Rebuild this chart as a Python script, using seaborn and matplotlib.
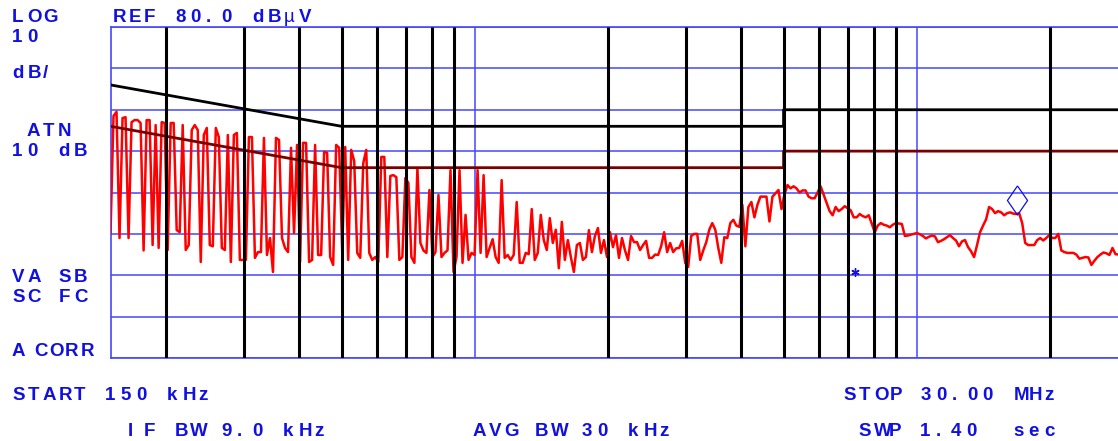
import numpy as np
import pandas as pd
import matplotlib
matplotlib.use("Agg")
import matplotlib.pyplot as plt
import seaborn as sns
from matplotlib.ticker import LogLocator, NullFormatter

# Instrument settings shown on screen
START_MHZ = 0.15
STOP_MHZ = 30.0
REF_DBUV = 80.0
DB_PER_DIV = 10
N_DIV = 8

# Measured trace (dBuV), one value per sweep point, 150 kHz .. 30 MHz
trace_dbuv = [
    30, 58.5, 59.5, 29, 58, 58.2, 29, 57, 57.5, 57.5,
    56.8, 26, 57.5, 57.5, 27.3, 56.3, 26.6, 57, 56.8, 26.1,
    56.8, 56.8, 30.9, 30.4, 56.3, 26.1, 27.3, 55.1, 56.3, 55.1,
    23.2, 53.9, 55.6, 27.3, 27, 55.6, 53.4, 26.6, 26.1, 53.9,
    23.2, 53.9, 54.4, 23.7, 23.7, 23.7, 53.4, 53.4, 24.2, 25.6,
    25.6, 53.2, 24.9, 29, 20.8, 53.2, 52.7, 29, 26.6, 25.6,
    50.8, 30.2, 51.5, 23.2, 52, 52, 23.2, 23.7, 51.5, 24.9,
    24.9, 49.8, 49.6, 24.4, 22.5, 51.5, 50.8, 26.1, 51, 23.7,
    50.3, 47.6, 25.4, 24.2, 47.1, 50.3, 25.4, 23.7, 24.4, 23.2,
    48.6, 48.6, 24.4, 44, 44.2, 43.7, 23.7, 24.4, 43.5, 42.3,
    24.4, 23, 45.9, 27.8, 26, 25.4, 40.6, 24.4, 25.6, 39.4,
    24.4, 25.4, 26, 45.4, 20.8, 24.4, 45.4, 23, 34.6, 23.7,
    25.4, 24.9, 45.4, 25.4, 44.2, 24.4, 26.6, 28.7, 24.4, 23,
    43, 24.2, 24.9, 23.7, 24.9, 37.7, 23, 23, 25.4, 25.1,
    36, 23.7, 25.4, 34.6, 28.5, 26.1, 33.8, 27.8, 31, 21.7,
    32.9, 23.7, 28.5, 24.4, 20.8, 27.3, 27.8, 23.7, 24.4, 30.9,
    25.6, 29.5, 31.4, 25.4, 28.5, 24.4, 30.4, 26.8, 29.7, 24.2,
    29, 26, 23.7, 29.5, 28, 28, 26.1, 27.3, 28.3, 24.2,
    24.2, 25, 24.9, 27, 30.4, 25.6, 27.8, 25.6, 26.5, 26.6,
    28.3, 23, 22, 29.5, 30, 30, 23.7, 26, 28, 31,
    32.6, 31, 26.6, 23, 29.2, 29, 32.6, 33.4, 32, 31.7,
    37, 27, 36.5, 37.7, 34, 37, 39, 39, 39, 33,
    39, 39.8, 40.6, 36, 39.6, 41.8, 41, 41.5, 41, 40,
    40.5, 40.5, 39, 38.6, 38.6, 40, 41.5, 39.5, 37.5, 35.5,
    34.5, 36.5, 35.5, 36, 36.7, 36.2, 35.7, 34, 34, 34.8,
    34.3, 34, 34.5, 32.5, 30.4, 32, 32.6, 32.2, 32, 31.6,
    32.2, 32.6, 32.5, 32.4, 29.5, 29.6, 29.8, 30, 30.2, 29.9,
    29.5, 28.9, 29.3, 29.6, 29.4, 28, 28.3, 28.7, 29.2, 29.7,
    29, 28.4, 27, 28.2, 28.5, 26.8, 25.8, 24.4, 27.3, 30.4,
    32, 33.5, 36.5, 36, 35, 35.5, 35.2, 34.5, 35, 35.2,
    34.9, 34.8, 35, 32.6, 27.8, 27.3, 27.3, 27.3, 28.5, 29,
    28.4, 29, 29.7, 29, 29, 30, 26, 25.6, 25.4, 25.4,
    25.4, 25, 24, 24.2, 24.4, 24.3, 22.5, 23.5, 24.4, 25,
    25.5, 25.3, 24.9, 26.6, 25.1, 25, 24.6, 24.5, 24.5,
]

# Limit lines (quasi-peak and average)
qp_limit_mhz = [0.15, 0.5, 5.0, 5.0, 30.0]
qp_limit_dbuv = [66, 56, 56, 60, 60]
avg_limit_mhz = [0.15, 0.5, 5.0, 5.0, 30.0]
avg_limit_dbuv = [56, 46, 46, 50, 50]

# Markers
marker_mhz = [16.9]
marker_dbuv = [38.2]
ref_mark_mhz = [7.26]
ref_mark_dbuv = [20.8]

sweep_mhz = np.geomspace(START_MHZ, STOP_MHZ, len(trace_dbuv))
trace_df = pd.DataFrame({"freq": sweep_mhz, "level": trace_dbuv})

BLUE = "#1010e0"
GRID_BLUE = "#4646ff"

sns.set_style("white")
plt.rcParams["font.family"] = ["Liberation Sans", "DejaVu Sans"]

W, H = 1118, 441
fig = plt.figure(figsize=(W / 100, H / 100), dpi=100)
ax = fig.add_axes([110.5 / W, (H - 358) / H, (1127.5 - 110.5) / W, (358 - 27) / H])

ax.set_xscale("log")
ax.set_xlim(START_MHZ, STOP_MHZ)
ax.set_ylim(REF_DBUV - N_DIV * DB_PER_DIV, REF_DBUV)

# graticule
ax.set_yticks(np.arange(0, REF_DBUV + 1, DB_PER_DIV))
ax.xaxis.set_major_locator(LogLocator(base=10))
ax.xaxis.set_minor_locator(LogLocator(base=10, subs=np.arange(2, 10)))
ax.xaxis.set_minor_formatter(NullFormatter())
ax.grid(True, which="major", color=GRID_BLUE, lw=1.1)
ax.set_axisbelow(True)
ax.tick_params(which="both", length=0, labelbottom=False, labelleft=False)
for side in ["top", "bottom", "left"]:
    ax.spines[side].set_color(GRID_BLUE)
    ax.spines[side].set_linewidth(1.2)
ax.spines["right"].set_visible(False)

minor_locs = [m for m in ax.xaxis.get_minorticklocs() if START_MHZ < m < STOP_MHZ * 0.999]
ax.vlines(minor_locs, REF_DBUV - N_DIV * DB_PER_DIV, REF_DBUV, colors="black", lw=2.2, zorder=4)

# trace and limits
sns.lineplot(data=trace_df, x="freq", y="level", ax=ax, color="#ff0000", lw=1.8,
             estimator=None, sort=False, zorder=3)
sns.lineplot(x=qp_limit_mhz, y=qp_limit_dbuv, ax=ax, color="black", lw=2.0,
             estimator=None, sort=False, zorder=3.5)
sns.lineplot(x=avg_limit_mhz, y=avg_limit_dbuv, ax=ax, color="#7a0000", lw=2.0,
             estimator=None, sort=False, zorder=3.5)

diamond = [(0, 1), (0.69, 0), (0, -1), (-0.69, 0), (0, 1)]
ax.plot(marker_mhz, marker_dbuv, ls="none", marker=diamond, ms=21,
        mfc="none", mec=BLUE, mew=0.9, zorder=5)
ax.plot(ref_mark_mhz, ref_mark_dbuv, ls="none", marker=(6, 2, 0), ms=6,
        mec=BLUE, mew=1.0, zorder=5)
ax.set_xlabel("")
ax.set_ylabel("")

# screen annotations, fixed character cells like the analyzer display
PITCH = 15.5


def cell_text(s, left_px, y_px, weight="bold"):
    for i, ch in enumerate(s):
        if ch == " ":
            continue
        w = "normal" if ch == "µ" else weight
        fig.text((left_px + PITCH * i) / W, 1 - y_px / H, ch, ha="left", va="center",
                 fontsize=13.5, fontweight=w, color=BLUE)


cell_text("LOG", 12, 17)
cell_text("10", 12, 37)
cell_text("dB/", 12, 73)
cell_text("ATN", 27, 131)
cell_text("10 dB", 12, 152)
cell_text("VA SB", 12, 277)
cell_text("SC FC", 12, 297)
cell_text("A", 12, 352)
cell_text("CORR", 34, 352)
cell_text("START 150 kHz", 12, 396)
cell_text("REF 80.0 dBµV", 113, 17)
cell_text("IF BW 9.0 kHz", 128, 431)
cell_text("AVG BW 30 kHz", 473, 431)
cell_text("STOP 30.00 MHz", 843, 396)
cell_text("SWP 1.40  sec", 858, 431)

fig.savefig("out.png", dpi=100)
plt.close(fig)
